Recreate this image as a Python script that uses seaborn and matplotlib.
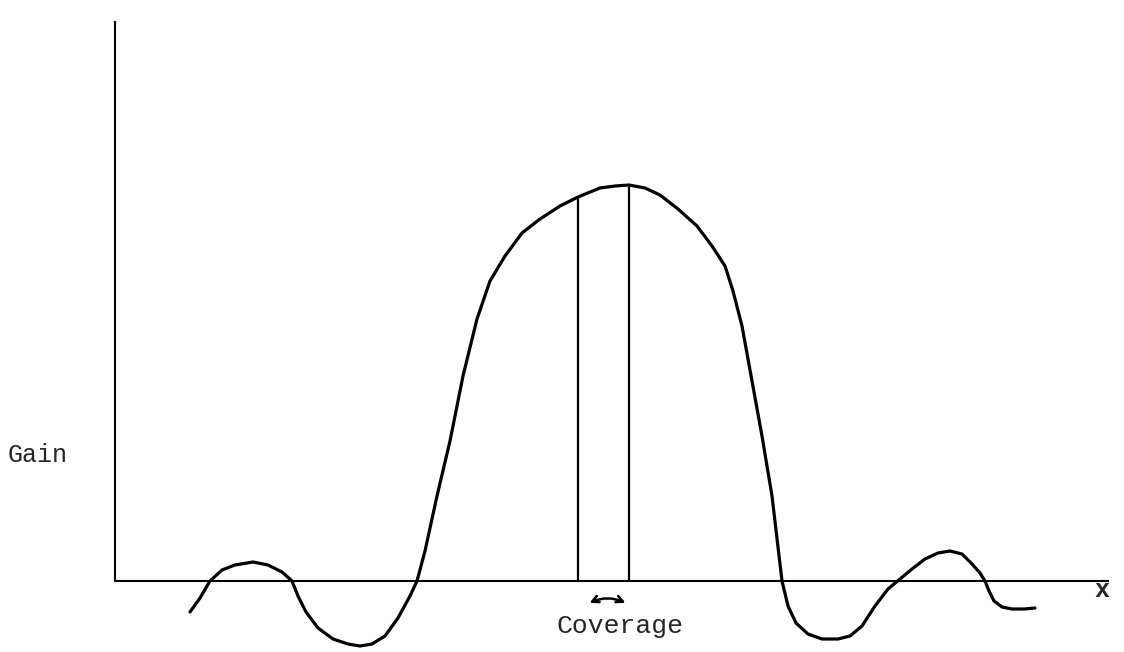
import matplotlib
matplotlib.use("Agg")
import matplotlib.pyplot as plt
import seaborn as sns
import pandas as pd

# antenna gain pattern (x position, gain above baseline)
pos = [190, 200, 210, 222, 235, 253, 268, 282, 292, 298, 306, 318, 333, 348, 360,
       372, 385, 398, 410, 417, 425, 437, 450, 463, 477, 490, 505, 522, 540,
       560, 578, 600, 615, 629, 645, 660, 678, 697, 712, 725, 733, 742, 752,
       762, 772, 782, 788, 796, 808, 822, 838, 850, 862, 875, 888, 900, 912,
       925, 938, 950, 962, 972, 980, 985, 989, 994, 1002, 1012, 1024, 1035]
gain = [-31, -17, 0, 11, 16, 19, 16, 9, 0, -15, -31, -47, -58, -63, -65,
        -63, -55, -37, -15, 0, 30, 85, 140, 205, 262, 300, 325, 348, 362,
        375, 384, 393, 395, 396, 393, 386, 372, 355, 335, 315, 290, 255, 200,
        145, 85, 0, -25, -42, -53, -58, -58, -55, -45, -25, -8, 2, 12,
        22, 28, 30, 27, 17, 8, 0, -10, -20, -26, -28, -28, -27]

# coverage edges (vertical lines up to the curve)
cov_pos = [578, 629]
cov_top = [385, 396]

df = pd.DataFrame({"pos": pos, "gain": gain})

sns.set_style("white")
plt.rcParams["font.family"] = ["Liberation Mono", "DejaVu Sans"]

fig = plt.figure(figsize=(11.24, 6.52), dpi=100)
ax = fig.add_axes([115 / 1124, 71 / 652, (1108 - 115) / 1124, (581 - 22) / 652])

sns.lineplot(data=df, x="pos", y="gain", sort=False, color="black",
             linewidth=2.3, ax=ax, clip_on=False)
ax.vlines(cov_pos, 0, cov_top, color="black", linewidth=1.6)

ax.set_xlim(115, 1108)
ax.set_ylim(0, 559)
ax.set_xticks([])
ax.set_yticks([])
ax.set_xlabel("")
ax.set_ylabel("")
for s in ["top", "right"]:
    ax.spines[s].set_visible(False)
for s in ["left", "bottom"]:
    ax.spines[s].set_color("black")
    ax.spines[s].set_linewidth(1.5)

ax.text(38, 126, "Gain", fontsize=18, ha="center", va="center")
ax.text(1102, -9, "x", fontsize=18, ha="center", va="center", fontweight="bold")
ax.text(620, -45, "Coverage", fontsize=19, ha="center", va="center")
ax.annotate("", xy=(587, -23), xytext=(628, -23), annotation_clip=False,
            arrowprops=dict(arrowstyle="<->", color="black", lw=1.8,
                            mutation_scale=12,
                            connectionstyle="arc3,rad=0.25"))

fig.savefig("out.png", dpi=100)
